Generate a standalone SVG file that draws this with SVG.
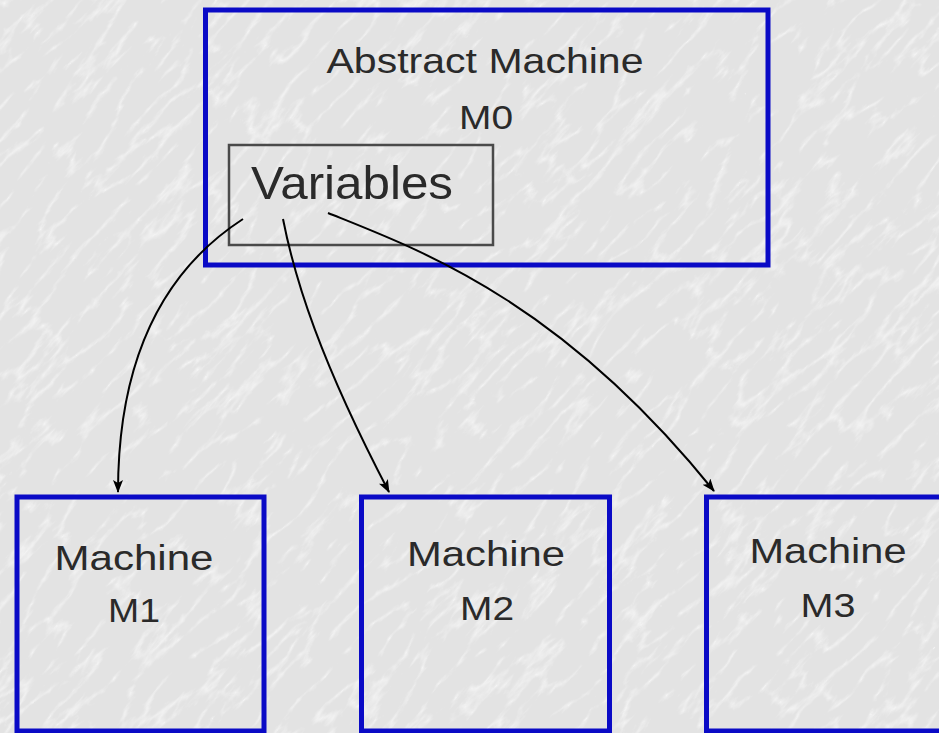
<svg xmlns="http://www.w3.org/2000/svg" width="939" height="733" viewBox="0 0 939 733">
  <style>
    .box { fill: none; stroke: #0a0ac6; stroke-width: 5; }
    .inner { fill: none; stroke: #4a4a4a; stroke-width: 2.5; }
    .lbl { font-family: "Liberation Sans", Arial, sans-serif; fill: #2a2a2a; text-anchor: middle; }
    .link { fill: none; stroke: #000; stroke-width: 2; marker-end: url(#arrow); }
  </style>
  <defs>
    <marker id="arrow" markerUnits="userSpaceOnUse" markerWidth="13" markerHeight="11" refX="12" refY="5" orient="auto">
      <path d="M0,0 L13,5 L0,10 L3,5 z" fill="#000"/>
    </marker>
    <!-- soft marble backdrop: thin pale veins over light grey -->
    <filter id="marble" x="0" y="0" width="100%" height="100%" color-interpolation-filters="sRGB">
      <feTurbulence type="turbulence" baseFrequency="0.014 0.045" numOctaves="4" seed="11" result="n"/>
      <feColorMatrix in="n" type="matrix" values="0 0 0 0 1  0 0 0 0 1  0 0 0 0 1  -2.6 0 0 0 0.6" result="v"/>
      <feFlood flood-color="#e3e3e3" result="bg"/>
      <feComposite in="v" in2="bg" operator="over"/>
    </filter>
  </defs>

  <rect width="939" height="733" fill="#e3e3e3"/>
  <g transform="rotate(-48 470 366)">
    <rect x="-400" y="-400" width="1740" height="1540" filter="url(#marble)"/>
  </g>

  <g id="m0">
    <rect class="box" x="205.5" y="10" width="562.5" height="255"/>
    <text class="lbl" x="485" y="73" font-size="35" textLength="317" lengthAdjust="spacingAndGlyphs">Abstract Machine</text>
    <text class="lbl" x="486" y="129" font-size="34" textLength="54" lengthAdjust="spacingAndGlyphs">M0</text>
  </g>

  <g id="variables">
    <rect class="inner" x="229" y="145" width="264" height="100"/>
    <text class="lbl" x="352" y="199" font-size="47" textLength="202" lengthAdjust="spacingAndGlyphs">Variables</text>
  </g>

  <g id="m1">
    <rect class="box" x="17" y="497" width="247" height="234"/>
    <text class="lbl" x="134" y="570" font-size="35" textLength="159" lengthAdjust="spacingAndGlyphs">Machine</text>
    <text class="lbl" x="134" y="622" font-size="34" textLength="52" lengthAdjust="spacingAndGlyphs">M1</text>
  </g>

  <g id="m2">
    <rect class="box" x="361.5" y="497" width="248" height="234"/>
    <text class="lbl" x="486" y="566" font-size="35" textLength="158" lengthAdjust="spacingAndGlyphs">Machine</text>
    <text class="lbl" x="487" y="620" font-size="34" textLength="54" lengthAdjust="spacingAndGlyphs">M2</text>
  </g>

  <g id="m3">
    <rect class="box" x="706.5" y="497" width="260" height="234"/>
    <text class="lbl" x="828" y="563" font-size="35" textLength="157" lengthAdjust="spacingAndGlyphs">Machine</text>
    <text class="lbl" x="828" y="617" font-size="34" textLength="55" lengthAdjust="spacingAndGlyphs">M3</text>
  </g>

  <g id="connectors">
    <path class="link" d="M243,219 Q118,300 118,492"/>
    <path class="link" d="M283,219 C295,280 320,360 389,492"/>
    <path class="link" d="M328,213 C420,250 560,300 714,491"/>
  </g>
</svg>
